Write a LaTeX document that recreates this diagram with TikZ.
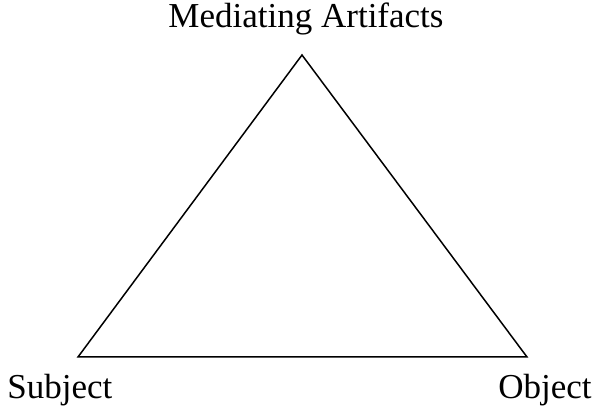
\documentclass[tikz,border=0pt]{standalone}
\usepackage{fontspec}
\setmainfont{Liberation Serif}
\usetikzlibrary{calc}

\begin{document}
\begin{tikzpicture}[x=0.5pt,y=-0.5pt,font=\fontsize{17.5}{21}\selectfont,
  corner/.style={inner sep=0pt}]
  \useasboundingbox (0,0) rectangle (602,411);
  \coordinate (apex) at (302,55);
  \coordinate (left) at (78,357);
  \coordinate (right) at (527,357);
  \draw[line width=0.75pt] (apex) -- (left) -- (right) -- cycle;
  \node[corner,anchor=base] (mediating) at (306,28) {Mediating Artifacts};
  \node[corner,anchor=base west] (subject) at (7,399) {Subject};
  \node[corner,anchor=base east] (object) at (592,399) {Object};
\end{tikzpicture}
\end{document}
